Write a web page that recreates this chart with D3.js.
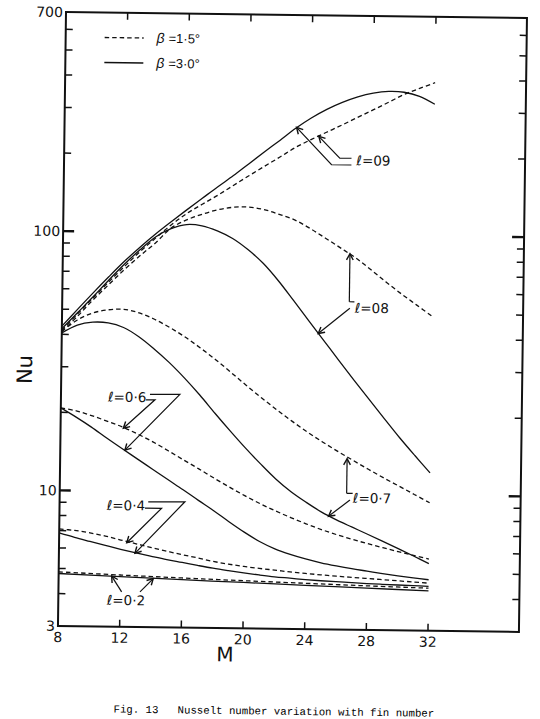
<!DOCTYPE html>
<html><head><meta charset="utf-8">
<script src="https://cdn.jsdelivr.net/npm/d3@7"></script>
<style>
html,body{margin:0;padding:0;background:#fff;}
svg{display:block;}
</style></head><body>
<svg id="chart" width="540" height="719"></svg>
<script>
// ---------------- data ----------------
const M = [8,9,10,11,12,13,14,15,16,17,18,19,20,21,22,23,24,25,26,27,28,29,30,31,32];
// beta = 3.0 deg (solid) and beta = 1.5 deg (dashed)
const nu09s = [43,50,58,67,77,87.5,98.5,110,122.5,136,151,167,186,207,230,256,281,304,324,341,353,359,357,345,322];
const nu09d = [41.5,48,55.5,64,73.5,84,95,107,118.5,129,140,153,167,182,198,216,232,248,265,284,304,326,350,370,390];
const nu08s = [42,48.5,56,65,75,85.5,96,103.5,107.5,106.5,102,95.5,86.7,76.9,66,55.5,46.5,39,32.7,27.5,23.2,19.6,16.6,14.2,12.2];
const nu08d = [41,47,54.5,62.5,71.5,81,91,104,112,118,123,126,126.5,124,119,113.5,105.5,97,89,81.5,73.5,66,59.5,54,49];
const nu07s = [40.5,43.5,44.7,44.5,42.8,39.5,35.5,31.5,27.5,23.7,20.2,17.3,14.9,12.95,11.35,10.15,9.25,8.5,7.93,7.46,7.02,6.6,6.2,5.82,5.45];
const nu07d = [41,45.5,48.5,50,50.3,48.8,46.2,43,39.6,36,32.5,29.1,26,23.3,21,19,17.3,15.85,14.6,13.5,12.5,11.6,10.8,10.05,9.35];
const nu06s = [20.8,19.2,17.6,16,14.6,13.35,12.2,11.15,10.2,9.3,8.5,7.72,7.05,6.5,6.1,5.82,5.6,5.42,5.28,5.16,5.06,4.96,4.87,4.79,4.72];
const nu06d = [20.8,20.3,19.5,18.6,17.7,16.65,15.55,14.4,13.3,12.3,11.35,10.5,9.75,9.1,8.55,8.07,7.65,7.28,6.97,6.7,6.46,6.24,6.04,5.85,5.67];
const nu04s = [6.85,6.6,6.38,6.17,5.97,5.79,5.63,5.48,5.35,5.22,5.1,5.0,4.91,4.83,4.76,4.71,4.66,4.62,4.59,4.56,4.53,4.51,4.49,4.47,4.45];
const nu04d = [7.1,7.02,6.88,6.7,6.48,6.28,6.08,5.9,5.73,5.58,5.42,5.3,5.2,5.12,5.05,4.98,4.92,4.87,4.82,4.78,4.74,4.7,4.66,4.62,4.58];
const M02 = [8,12,16,20,24,28,32];
const nu02s = [4.78,4.68,4.59,4.51,4.43,4.35,4.28];
const nu02d = [4.85,4.75,4.66,4.58,4.51,4.44,4.38];

// axis ticks
const xTickLabels = [8,12,16,20,24,28,32];
const xTicks = [12,16,20,24,28,32];
const yTickLabels = [3,10,100,700];
const yMajorTicks = [10,100];
const yMinorTicks = [4,5,6,7,8,9,20,30,40,50,60,70,80,90,200,300,400,500,600];

// legend
const legendLabels = ["=1·5°", "=3·0°"];

// annotation leaders (in data coordinates: [M, Nu]); arrow at last point
const leaders = [
  {pts:[[26.64,186],[25.35,186],[23.05,258]], arrow:true},
  {pts:[[26.64,197.5],[25.88,197.5],[24.5,239]], arrow:true},
  {pts:[[26.62,55.2],[26.62,84.5]], arrow:true},
  {pts:[[26.62,55.2],[26.95,55.2]], arrow:false},
  {pts:[[26.66,52.1],[24.63,41.5]], arrow:true},
  {pts:[[26.61,10.07],[26.61,13.7]], arrow:true},
  {pts:[[26.61,10.07],[27.0,10.07]], arrow:false},
  {pts:[[26.83,9.49],[25.45,8.2]], arrow:true},
  {pts:[[13.77,23.7],[15.71,23.8],[12.19,14.4]], arrow:true},
  {pts:[[13.52,22.55],[14.1,22.6],[12.07,17.5]], arrow:true},
  {pts:[[13.75,9.13],[16.13,9.17],[12.93,5.77]], arrow:true},
  {pts:[[13.54,8.62],[14.62,8.63],[12.39,6.33]], arrow:true},
  {pts:[[12.1,4.09],[11.44,4.70]], arrow:true},
  {pts:[[13.29,4.10],[14.14,4.62]], arrow:true}
];
const annoLabels = [
  {t:"ℓ=09", m:26.96, nu:194},
  {t:"ℓ=08", m:26.98, nu:52.3},
  {t:"ℓ=0·7", m:27.02, nu:9.67},
  {t:"ℓ=0·6", m:11.05, nu:23.1},
  {t:"ℓ=0·4", m:11.06, nu:8.82},
  {t:"ℓ=0·2", m:11.14, nu:3.80}
];

// ---------------- drawing ----------------
const W = 461, H = 614;
const svg = d3.select('#chart');
svg.append('rect').attr('width',540).attr('height',719).attr('fill','#fff');
const g = svg.append('g').attr('transform','translate(66,12) rotate(0.75)');

const x = d3.scaleLinear().domain([8,37.9]).range([0,W]);
const y = d3.scaleLog().domain([3,700]).range([H,0]);

const series = [
  {m:M, v:nu09s, dash:false}, {m:M, v:nu09d, dash:true},
  {m:M, v:nu08s, dash:false}, {m:M, v:nu08d, dash:true},
  {m:M, v:nu07s, dash:false}, {m:M, v:nu07d, dash:true},
  {m:M, v:nu06s, dash:false}, {m:M, v:nu06d, dash:true},
  {m:M, v:nu04s, dash:false}, {m:M, v:nu04d, dash:true},
  {m:M02, v:nu02s, dash:false}, {m:M02, v:nu02d, dash:true}
];

const line = d3.line().x(d=>x(d[0])).y(d=>y(d[1])).curve(d3.curveCatmullRom.alpha(0.5));

g.append('g').selectAll('path').data(series).join('path')
  .attr('d', s => line(s.m.map((mm,i)=>[mm, s.v[i]])))
  .attr('fill','none').attr('stroke','#111')
  .attr('stroke-width',1.3)
  .attr('stroke-dasharray', s => s.dash ? '4.5,3' : null);

// frame
g.append('rect').attr('x',0).attr('y',0).attr('width',W).attr('height',H)
  .attr('fill','none').attr('stroke','#111').attr('stroke-width',2);

// ticks
const tk = g.append('g').attr('stroke','#111');
tk.selectAll('.lmin').data(yMinorTicks).join('line')
  .attr('x1',0).attr('x2',7).attr('y1',d=>y(d)).attr('y2',d=>y(d)).attr('stroke-width',1.5);
tk.selectAll('.rmin').data(yMinorTicks).join('line')
  .attr('x1',W).attr('x2',W-7).attr('y1',d=>y(d)).attr('y2',d=>y(d)).attr('stroke-width',1.5);
tk.selectAll('.lmaj').data(yMajorTicks).join('line')
  .attr('x1',0).attr('x2',11).attr('y1',d=>y(d)).attr('y2',d=>y(d)).attr('stroke-width',2.3);
tk.selectAll('.rmaj').data(yMajorTicks).join('line')
  .attr('x1',W).attr('x2',W-12).attr('y1',d=>y(d)).attr('y2',d=>y(d)).attr('stroke-width',2.3);
tk.selectAll('.bt').data(xTicks).join('line')
  .attr('x1',d=>x(d)).attr('x2',d=>x(d)).attr('y1',H).attr('y2',H-7).attr('stroke-width',1.5);
tk.selectAll('.tt').data(xTicks).join('line')
  .attr('x1',d=>x(d)).attr('x2',d=>x(d)).attr('y1',0).attr('y2',7).attr('stroke-width',1.5);

// tick labels
const font = "'DejaVu Sans', sans-serif";
g.append('g').selectAll('text').data(yTickLabels).join('text')
  .attr('x',-3).attr('y',d=>y(d)).attr('dy','0.36em')
  .attr('text-anchor','end').attr('font-family',font).attr('font-size',14)
  .attr('fill','#111').text(d=>d);
g.append('g').selectAll('text').data(xTickLabels).join('text')
  .attr('x',d=>x(d)).attr('y',H+11).attr('dy','0.36em')
  .attr('text-anchor','middle').attr('font-family',font).attr('font-size',14)
  .attr('fill','#111').text(d=>d);

// axis titles
g.append('text').attr('x',x(18.85)).attr('y',H+26).attr('dy','0.36em')
  .attr('text-anchor','middle').attr('font-family',font).attr('font-size',20)
  .attr('fill','#111').text('M');
g.append('text').attr('transform',`translate(-37,358) rotate(-90)`)
  .attr('dy','0.36em').attr('text-anchor','middle').attr('font-family',font)
  .attr('font-size',21).attr('fill','#111').text('Nu');

// legend
const lg = g.append('g');
lg.selectAll('line').data(legendLabels).join('line')
  .attr('x1',39).attr('x2',78).attr('y1',(d,i)=>25+i*25).attr('y2',(d,i)=>25+i*25)
  .attr('stroke','#111').attr('stroke-width',1.3)
  .attr('stroke-dasharray',(d,i)=> i===0 ? '4.5,3' : null);
const lt = lg.selectAll('text').data(legendLabels).join('text')
  .attr('x',91).attr('y',(d,i)=>25+i*25).attr('dy','0.36em')
  .attr('font-family',"'Liberation Sans', sans-serif").attr('font-size',13)
  .attr('fill','#111');
lt.append('tspan').attr('font-style','italic').attr('font-size',14).text('β ');
lt.append('tspan').text(d=>d);

// annotations
const ag = g.append('g').attr('fill','none').attr('stroke','#111').attr('stroke-width',1.2);
const pl = d3.line().x(d=>x(d[0])).y(d=>y(d[1]));
ag.selectAll('.ld').data(leaders).join('path').attr('d', d=>pl(d.pts));
function head(d){
  const n = d.pts.length;
  const p0 = [x(d.pts[n-2][0]), y(d.pts[n-2][1])];
  const p1 = [x(d.pts[n-1][0]), y(d.pts[n-1][1])];
  const a = Math.atan2(p1[1]-p0[1], p1[0]-p0[0]);
  const L = 7, s = 0.5;
  const b1 = [p1[0]-L*Math.cos(a-s), p1[1]-L*Math.sin(a-s)];
  const b2 = [p1[0]-L*Math.cos(a+s), p1[1]-L*Math.sin(a+s)];
  return `M${b1[0]},${b1[1]}L${p1[0]},${p1[1]}L${b2[0]},${b2[1]}`;
}
ag.selectAll('.hd').data(leaders.filter(d=>d.arrow)).join('path')
  .attr('d', head).attr('stroke-width',1.4);

g.append('g').selectAll('text').data(annoLabels).join('text')
  .attr('x',d=>x(d.m)).attr('y',d=>y(d.nu)).attr('dy','0.36em')
  .attr('font-family',font).attr('font-size',13.5).attr('fill','#111')
  .text(d=>d.t);

// caption
g.append('text').attr('x',217).attr('y',696).attr('dy','0.36em')
  .attr('text-anchor','middle').attr('font-family',"'Liberation Mono', monospace")
  .attr('font-size',10.7).attr('fill','#000').attr('xml:space','preserve')
  .style('white-space','pre')
  .text('Fig. 13   Nusselt number variation with fin number');
</script>
</body></html>
